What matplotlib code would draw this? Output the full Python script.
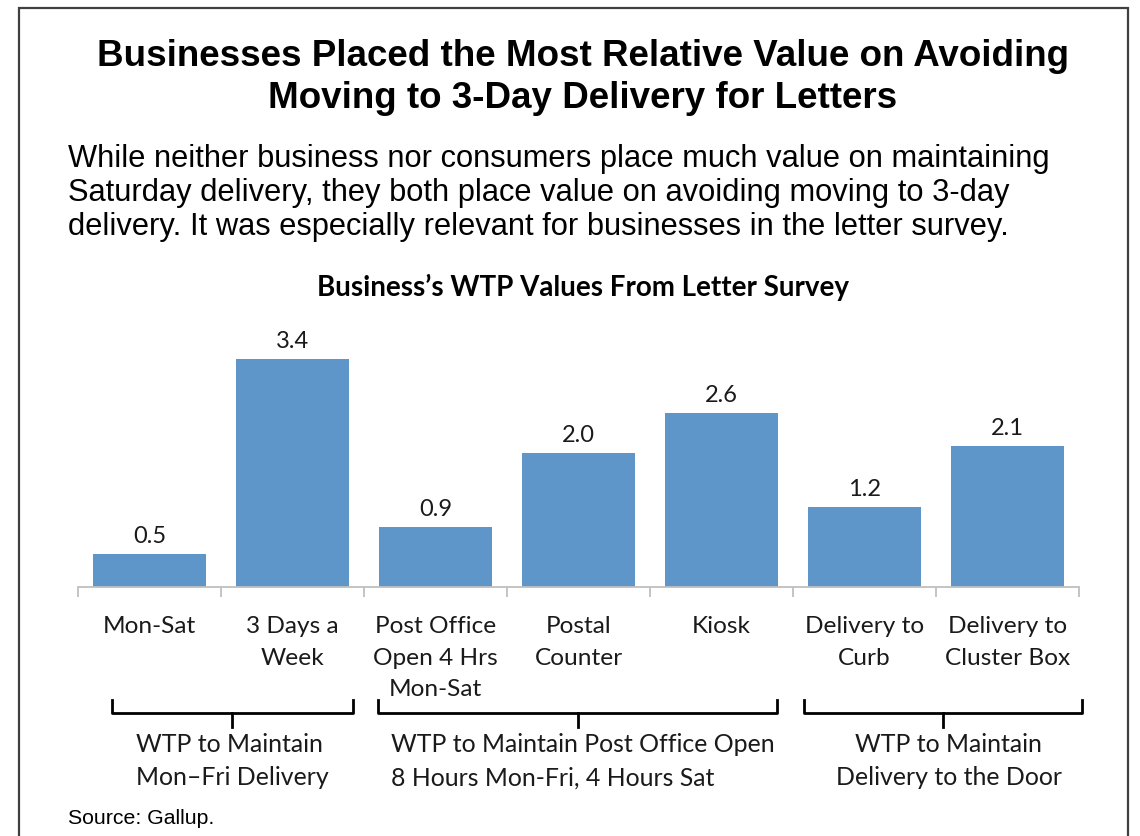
import numpy as np
import matplotlib.pyplot as plt
from matplotlib.patches import Rectangle
import matplotlib.transforms as transforms

# data
categories = ["Mon-Sat", "3 Days a\nWeek", "Post Office\nOpen 4 Hrs\nMon-Sat",
              "Postal\nCounter", "Kiosk", "Delivery to\nCurb", "Delivery to\nCluster Box"]
wtp_values = [0.5, 3.4, 0.9, 2.0, 2.6, 1.2, 2.1]
group_labels = ["WTP to Maintain\nMon\u2013Fri Delivery",
                "WTP to Maintain Post Office Open\n8 Hours Mon-Fri, 4 Hours Sat",
                "WTP to Maintain\nDelivery to the Door"]
# bracket extents in category units (left, right), label x, text alignment
group_spans = [(-0.26, 1.42, 0.58, "left"), (1.60, 4.39, 3.03, "left"),
               (4.58, 6.52, 5.59, "center")]

title = "Businesses Placed the Most Relative Value on Avoiding\nMoving to 3-Day Delivery for Letters"
subtitle = ("While neither business nor consumers place much value on maintaining\n"
            "Saturday delivery, they both place value on avoiding moving to 3-day\n"
            "delivery. It was especially relevant for businesses in the letter survey.")
chart_title = "Business\u2019s WTP Values From Letter Survey"
source = "Source: Gallup."

bar_color = "#5F96CA"
chart_font = ["Lato", "DejaVu Sans"]
head_font = ["Liberation Sans", "DejaVu Sans"]

fig = plt.figure(figsize=(11.4, 8.36), dpi=100)

# outer frame
fig.patches.append(Rectangle((19 / 1140, -0.01), (1128 - 19) / 1140, 1 - 8 / 836 + 0.01,
                             transform=fig.transFigure, fill=False,
                             edgecolor="#404040", linewidth=1.6))

fig.text(583 / 1140, 1 - 77.5 / 836, title, ha="center", va="center", fontsize=26.5,
         fontweight="bold", family=head_font, linespacing=1.28)
fig.text(68 / 1140, 1 - 193 / 836, subtitle, ha="left", va="center", fontsize=22.2,
         family=head_font, linespacing=1.18)
fig.text(583 / 1140, 1 - 287 / 836, chart_title, ha="center", va="center",
         fontsize=20, fontweight="bold", family=chart_font)
fig.text(68 / 1140, 1 - 818 / 836, source, ha="left", va="center", fontsize=15.3,
         family=head_font)

ax = fig.add_axes([78 / 1140, 249 / 836, (1079 - 78) / 1140, 268 / 836])
x = np.arange(len(categories))
bars = ax.bar(x, wtp_values, width=0.79, color=bar_color, edgecolor="none")
ax.set_xlim(-0.5, len(categories) - 0.5)
ax.set_ylim(0, 4.0)

for rect, v in zip(bars, wtp_values):
    ax.annotate(f"{v:.1f}", (rect.get_x() + rect.get_width() / 2, v),
                xytext=(0, 5), textcoords="offset points", ha="center", va="bottom",
                fontsize=17, family=chart_font, color="#1a1a1a")

for side in ["top", "right", "left"]:
    ax.spines[side].set_visible(False)
ax.spines["bottom"].set_color("#BFBFBF")
ax.spines["bottom"].set_linewidth(1.3)
ax.set_yticks([])
ax.set_xticks(np.arange(len(categories) + 1) - 0.5)
ax.set_xticklabels([])
ax.tick_params(axis="x", length=7, width=1.3, color="#BFBFBF")

# category labels
trans = transforms.blended_transform_factory(ax.transData, fig.transFigure)
for i, lab in enumerate(categories):
    ax.text(i, 1 - 616 / 836, lab, transform=trans, ha="center", va="top",
            fontsize=17.6, family=chart_font, linespacing=1.62, color="#1a1a1a")

# group brackets
y_top = 1 - 700 / 836
y_mid = 1 - 713 / 836
y_bot = 1 - 727 / 836
for (x0, x1, xl, align), lab in zip(group_spans, group_labels):
    xc = (x0 + x1) / 2
    ax.plot([x0, x0, x1, x1], [y_top, y_mid, y_mid, y_top], transform=trans,
            color="black", linewidth=2, clip_on=False, solid_joinstyle="round")
    ax.plot([xc, xc], [y_mid, y_bot], transform=trans, color="black",
            linewidth=2, clip_on=False)
    ax.text(xl, 1 - 761 / 836, lab, transform=trans, ha="center", va="center",
            multialignment=align, fontsize=17.9, family=chart_font,
            linespacing=1.55, color="#1a1a1a")

fig.savefig("out.png", dpi=100)
